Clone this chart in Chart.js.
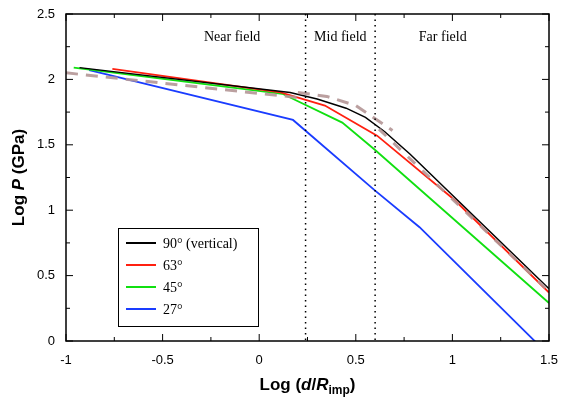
<!DOCTYPE html><html><head><script src="https://cdn.jsdelivr.net/npm/chart.js@4"></script>
<style>body{margin:0;background:#fff}#w{width:565px;height:407px}</style></head><body><div id="w"><canvas id="c"></canvas></div>
<script>
const blackX=[-0.93,0.16,0.3,0.45,0.55,0.65,0.78,1.5], blackY=[2.09,1.90,1.85,1.78,1.71,1.60,1.43,0.40];
const redX=[-0.76,0.11,0.34,0.61,1.01,1.5], redY=[2.08,1.90,1.80,1.57,1.08,0.37];
const greenX=[-0.96,0.12,0.43,0.6,1.5], greenY=[2.09,1.89,1.67,1.46,0.29];
const blueX=[-0.88,0.175,0.6,0.83,1.46], blueY=[2.07,1.69,1.15,0.87,-0.05];
const fitNearX=[-1,0.21], fitNearY=[2.05,1.86];
const fitMidX=[0.2,0.35,0.5,0.69], fitMidY=[1.90,1.87,1.80,1.61];
const fitFarX=[0.62,1.5], fitFarY=[1.62,0.38];
const fieldLines=[0.24,0.6];
const fieldLabels=[["Near field",-0.14],["Mid field",0.42],["Far field",0.95]];
const legendNames=["90° (vertical)","63°","45°","27°"];
const pts=(xs,ys)=>xs.map((x,i)=>({x,y:ys[i]}));
const ds=(xs,ys,c,w,dash,o)=>({data:pts(xs,ys),borderColor:c,borderWidth:w,borderDash:dash||[],pointRadius:0,fill:false,tension:0,order:o});
const cols=['#000','#ff2010','#10e010','#1a3cff'];
const G='rgba(180,150,150,0.9)';
const plug={id:'p',afterDraw(ch){const c=ch.ctx,a=ch.chartArea,xs=ch.scales.x,ys=ch.scales.y;c.save();
c.strokeStyle='#000';c.lineWidth=1.5;c.strokeRect(a.left,a.top,a.right-a.left,a.bottom-a.top);
c.lineWidth=1;
for(let v=-1;v<=1.5001;v+=0.25){const x=xs.getPixelForValue(v),l=(Math.abs(v*2-Math.round(v*2))<1e-6)?7:4;c.beginPath();c.moveTo(x,a.bottom);c.lineTo(x,a.bottom-l);c.moveTo(x,a.top);c.lineTo(x,a.top+l);c.stroke();}
for(let v=0;v<=2.5001;v+=0.25){const y=ys.getPixelForValue(v),l=(Math.abs(v*2-Math.round(v*2))<1e-6)?7:4;c.beginPath();c.moveTo(a.left,y);c.lineTo(a.left+l,y);c.moveTo(a.right,y);c.lineTo(a.right-l,y);c.stroke();}
c.setLineDash([1.5,4]);c.lineWidth=1.5;fieldLines.forEach(v=>{const x=xs.getPixelForValue(v);c.beginPath();c.moveTo(x,a.top);c.lineTo(x,a.bottom);c.stroke();});c.setLineDash([]);
c.fillStyle='#000';c.font='14px "Liberation Serif"';c.textAlign='center';c.textBaseline='middle';
fieldLabels.forEach(([t,v])=>c.fillText(t,xs.getPixelForValue(v),37));
c.fillStyle='#fff';c.fillRect(118,228,140,98);c.strokeStyle='#000';c.lineWidth=1;c.strokeRect(118.5,228.5,140,98);
c.textAlign='left';c.font='14px "Liberation Serif"';
legendNames.forEach((n,i)=>{const y=243+i*22;c.strokeStyle=cols[i];c.lineWidth=2;c.beginPath();c.moveTo(126,y);c.lineTo(156,y);c.stroke();c.fillStyle='#000';c.fillText(n,163,y+1);});
c.textBaseline='alphabetic';
const F=(b,i,s)=>(i?'italic ':'')+'bold '+s+'px "Liberation Sans"';
const parts=[['Log (',0,17,0],['d',1,17,0],['/',0,17,0],['R',1,17,0],['imp',0,12,4],[')',0,17,0]];
let tot=0;parts.forEach(p=>{c.font=F(1,p[1],p[2]);tot+=c.measureText(p[0]).width;});
let x0=(a.left+a.right)/2-tot/2;parts.forEach(p=>{c.font=F(1,p[1],p[2]);c.fillText(p[0],x0,390+p[3]);x0+=c.measureText(p[0]).width;});
c.translate(24,(a.top+a.bottom)/2);c.rotate(-Math.PI/2);
const yp=[['Log ',0],['P',1],[' (GPa)',0]];tot=0;yp.forEach(p=>{c.font=F(1,p[1],17);tot+=c.measureText(p[0]).width;});
let xx=-tot/2;yp.forEach(p=>{c.font=F(1,p[1],17);c.fillText(p[0],xx,0);xx+=c.measureText(p[0]).width;});
c.restore();}};
new Chart(document.getElementById('c'),{type:'line',data:{datasets:[
ds(blueX,blueY,cols[3],1.8,null,5),ds(greenX,greenY,cols[2],1.8,null,4),ds(redX,redY,cols[1],1.8,null,3),ds(blackX,blackY,cols[0],1.5,null,2),
ds(fitNearX,fitNearY,G,3,[12,8],1),ds(fitMidX,fitMidY,G,3,[12,8],1),ds(fitFarX,fitFarY,G,3,[10,10],1)]},
options:{animation:false,responsive:true,maintainAspectRatio:false,layout:{padding:{top:14,right:16}},
plugins:{legend:{display:false},tooltip:{enabled:false}},
scales:{x:{type:'linear',min:-1,max:1.5,grid:{display:false},border:{display:false},afterFit(s){s.height=66;},
ticks:{stepSize:0.5,color:'#000',font:{size:13,family:'Liberation Sans'},callback:v=>Math.abs(v)<1e-9?'0':String(v),padding:4}},
y:{min:0,max:2.5,grid:{display:false},border:{display:false},afterFit(s){s.width=66;},
ticks:{stepSize:0.5,color:'#000',font:{size:13,family:'Liberation Sans'},callback:v=>Math.abs(v)<1e-9?'0':String(v)}}}},plugins:[plug]});
</script></body></html>
